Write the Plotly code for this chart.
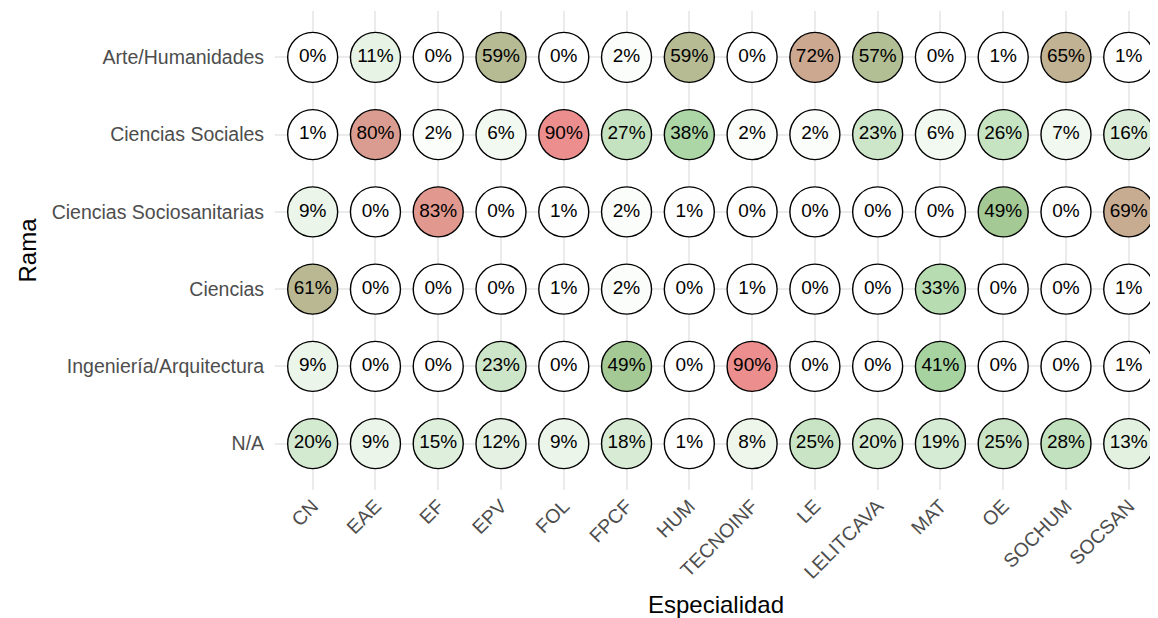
import plotly.graph_objects as go

especialidades = ["CN", "EAE", "EF", "EPV", "FOL", "FPCF", "HUM", "TECNOINF",
                  "LE", "LELITCAVA", "MAT", "OE", "SOCHUM", "SOCSAN"]
ramas = ["Arte/Humanidades", "Ciencias Sociales", "Ciencias Sociosanitarias",
         "Ciencias", "Ingeniería/Arquitectura", "N/A"]

arte_humanidades = [0, 11, 0, 59, 0, 2, 59, 0, 72, 57, 0, 1, 65, 1]
ciencias_sociales = [1, 80, 2, 6, 90, 27, 38, 2, 2, 23, 6, 26, 7, 16]
ciencias_sociosanitarias = [9, 0, 83, 0, 1, 2, 1, 0, 0, 0, 0, 49, 0, 69]
ciencias = [61, 0, 0, 0, 1, 2, 0, 1, 0, 0, 33, 0, 0, 1]
ingenieria_arquitectura = [9, 0, 0, 23, 0, 49, 0, 90, 0, 0, 41, 0, 0, 1]
na_values = [20, 9, 15, 12, 9, 18, 1, 8, 25, 20, 19, 25, 28, 13]

rows = [arte_humanidades, ciencias_sociales, ciencias_sociosanitarias,
        ciencias, ingenieria_arquitectura, na_values]

xs, ys, vals = [], [], []
for rama, row in zip(ramas, rows):
    for esp, v in zip(especialidades, row):
        xs.append(esp)
        ys.append(rama)
        vals.append(v)

FONT = "Liberation Sans, Arial, sans-serif"

fig = go.Figure()
fig.add_trace(go.Scatter(
    x=xs, y=ys, mode="markers+text",
    text=[f"{v}%" for v in vals],
    textposition="middle center",
    textfont=dict(family=FONT, size=19, color="black"),
    marker=dict(size=50, color=vals, cmin=0, cmax=90,
                colorscale=[[0, "#ffffff"], [0.5, "#9dcf96"], [1, "#ec8e8e"]],
                line=dict(color="black", width=1.4), showscale=False,
                opacity=1),
    hoverinfo="skip", showlegend=False, cliponaxis=False,
))

fig.update_layout(
    width=1150, height=610,
    margin=dict(l=267, r=1, t=3, b=128),
    paper_bgcolor="white", plot_bgcolor="white",
    font=dict(family=FONT),
    xaxis=dict(
        type="category", categoryorder="array", categoryarray=especialidades,
        range=[-0.6, 13.45], showgrid=True, gridcolor="#ebebeb", gridwidth=2,
        zeroline=False, showline=False, ticks="",
        tickangle=-45,
        tickfont=dict(family=FONT, size=19.5, color="#4d4d4d"),
        title=dict(text="Especialidad", font=dict(family=FONT, size=24, color="black"),
                   standoff=16),
        automargin=False,
    ),
    yaxis=dict(
        type="category", categoryorder="array", categoryarray=list(reversed(ramas)),
        range=[-0.6, 5.6], showgrid=True, gridcolor="#ebebeb", gridwidth=2,
        zeroline=False, showline=False, ticks="outside", ticklen=6,
        tickcolor="rgba(0,0,0,0)",
        tickfont=dict(family=FONT, size=19.5, color="#4d4d4d"),
        title=dict(text="Rama", font=dict(family=FONT, size=24, color="black"),
                   standoff=8),
        automargin=False,
    ),
)

fig.write_html("out.html")
